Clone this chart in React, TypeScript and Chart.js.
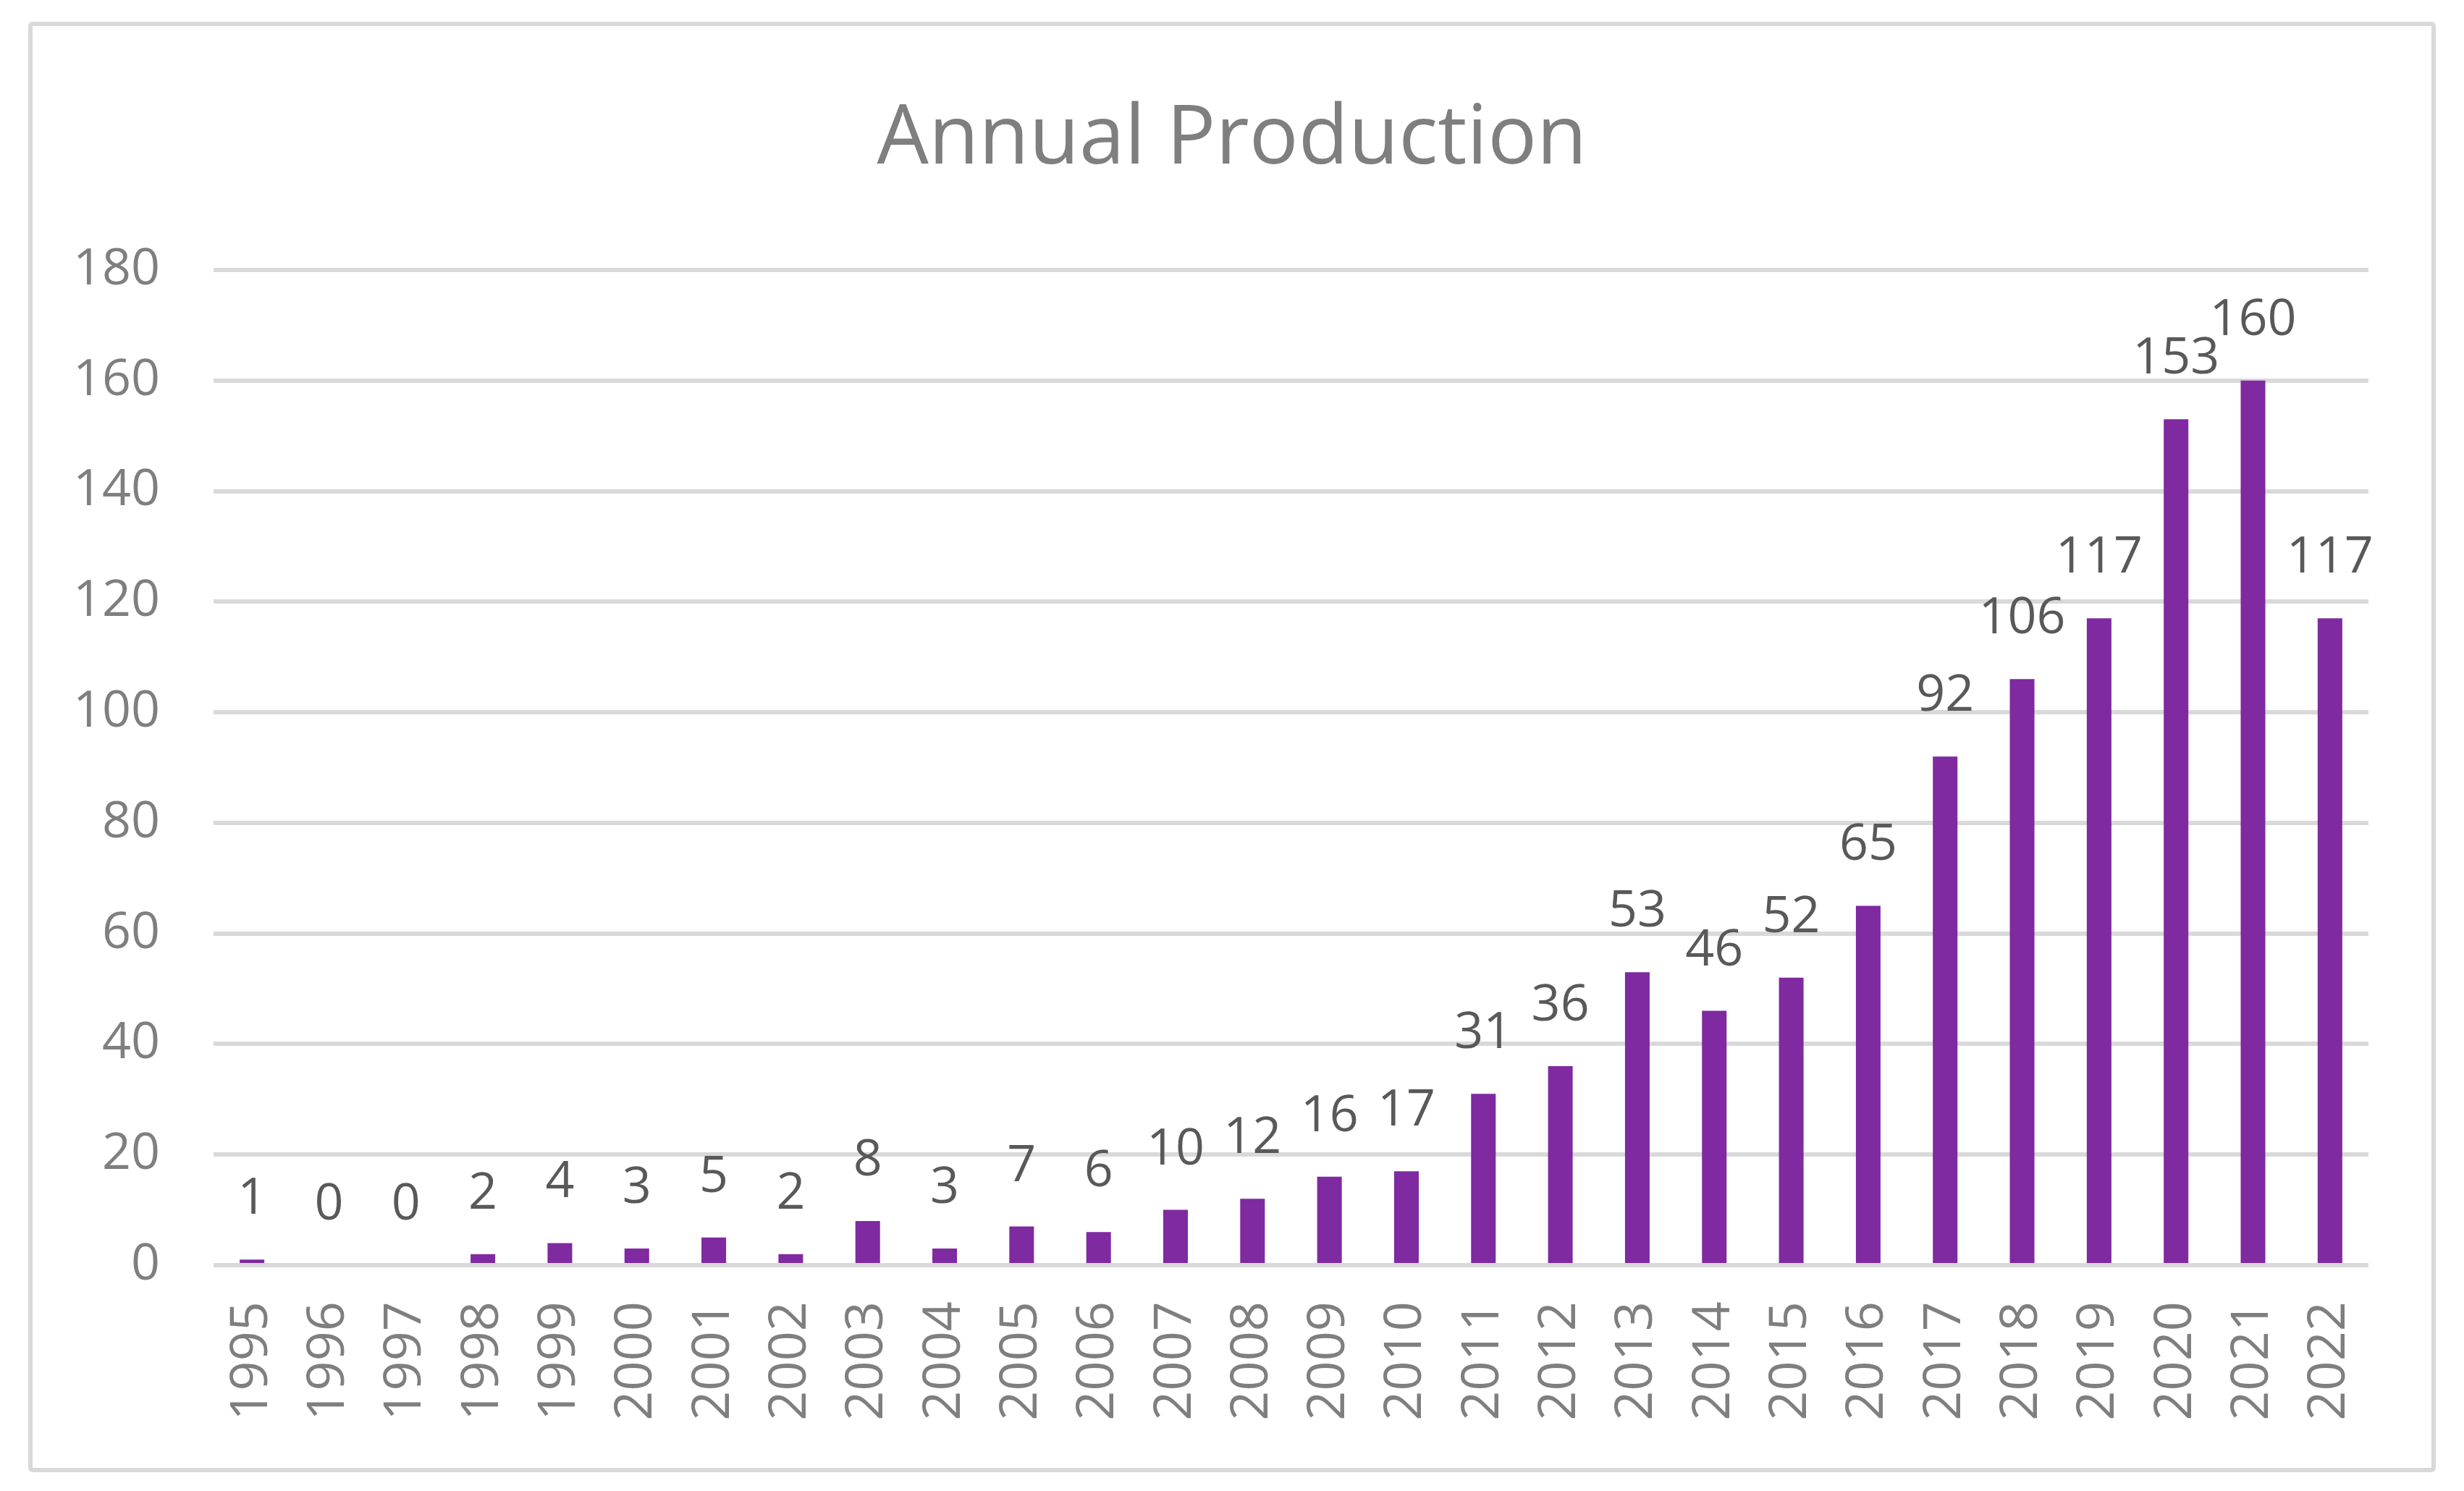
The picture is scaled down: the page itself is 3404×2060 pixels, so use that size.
import { useEffect, useRef } from "react"
import { Chart, registerables } from "chart.js"

// Register Chart.js components
Chart.register(...registerables)

const years = [
    "1995", "1996", "1997", "1998", "1999", "2000", "2001", "2002", "2003", "2004",
    "2005", "2006", "2007", "2008", "2009", "2010", "2011", "2012", "2013", "2014",
    "2015", "2016", "2017", "2018", "2019", "2020", "2021", "2022",
]
const production = [
    1, 0, 0, 2, 4, 3, 5, 2, 8, 3,
    7, 6, 10, 12, 16, 17, 31, 36, 53, 46,
    52, 65, 92, 106, 117, 153, 160, 117,
]
const yTicks = [0, 20, 40, 60, 80, 100, 120, 140, 160, 180]
const chartTitle = "Annual Production"

const FONT = "'Open Sans', 'Noto Sans', sans-serif"

// Draw the value above every bar (Excel-style data labels)
const valueLabels = {
    id: "valueLabels",
    afterDatasetsDraw(chart: Chart) {
        const { ctx } = chart
        const meta = chart.getDatasetMeta(0)
        ctx.save()
        ctx.font = `70px ${FONT}`
        ctx.fillStyle = "#595959"
        ctx.textAlign = "center"
        ctx.textBaseline = "alphabetic"
        meta.data.forEach((bar, i) => {
            ctx.fillText(String(production[i]), bar.x, bar.y - 63)
        })
        ctx.restore()
    },
}

// Title centred on the whole frame, not just on the padded layout box
const centredTitle = {
    id: "centredTitle",
    afterDraw(chart: Chart) {
        const { ctx } = chart
        ctx.save()
        ctx.font = `113px ${FONT}`
        ctx.fillStyle = "#7F7F7F"
        ctx.textAlign = "center"
        ctx.textBaseline = "alphabetic"
        ctx.fillText(chartTitle, chart.width / 2, 226)
        ctx.restore()
    },
}

export default function App() {
    const chartRef = useRef<HTMLCanvasElement>(null)
    const chartInstance = useRef<Chart | null>(null)

    useEffect(() => {
        if (!chartRef.current) return

        if (chartInstance.current) {
            chartInstance.current.destroy()
        }

        const ctx = chartRef.current.getContext("2d")
        if (!ctx) return

        chartInstance.current = new Chart(ctx, {
            type: "bar",
            data: {
                labels: years,
                datasets: [
                    {
                        data: production,
                        backgroundColor: "#7F2AA0",
                        categoryPercentage: 1,
                        barPercentage: 0.32,
                    },
                ],
            },
            options: {
                responsive: false,
                animation: false,
                devicePixelRatio: 1,
                layout: {
                    padding: { left: 0, right: 132, top: 373, bottom: 100 },
                },
                plugins: {
                    legend: { display: false },
                    tooltip: { enabled: false },
                    title: { display: false },
                },
                scales: {
                    x: {
                        grid: { display: false },
                        border: { display: false },
                        ticks: {
                            color: "#7F7F7F",
                            font: { family: FONT, size: 72 },
                            minRotation: 90,
                            maxRotation: 90,
                            padding: 42,
                            autoSkip: false,
                        },
                        afterFit: (scale) => {
                            scale.height = 212
                        },
                    },
                    y: {
                        min: 0,
                        max: 180,
                        grid: { color: "#D9D9D9", lineWidth: 6, drawTicks: false },
                        border: { display: false },
                        afterBuildTicks: (scale) => {
                            scale.ticks = yTicks.map((v) => ({ value: v }))
                        },
                        ticks: {
                            color: "#7F7F7F",
                            font: { family: FONT, size: 70 },
                            padding: 74,
                        },
                        afterFit: (scale) => {
                            scale.width = 295
                        },
                    },
                },
            },
            plugins: [valueLabels, centredTitle],
        })

        // Cleanup on unmount
        return () => {
            if (chartInstance.current) {
                chartInstance.current.destroy()
                chartInstance.current = null
            }
        }
    }, [])

    return (
        <div style={{ position: "fixed", left: 0, top: 0, width: 3404, height: 2060, background: "#fff" }}>
            <div
                style={{
                    position: "absolute",
                    left: 39,
                    top: 30,
                    width: 3326,
                    height: 2004,
                    boxSizing: "border-box",
                    border: "6px solid #D9D9D9",
                    borderRadius: 6,
                }}
            />
            <canvas
                ref={chartRef}
                width={3404}
                height={2060}
                style={{ position: "absolute", left: 0, top: 0, width: 3404, height: 2060 }}
            />
        </div>
    )
}
